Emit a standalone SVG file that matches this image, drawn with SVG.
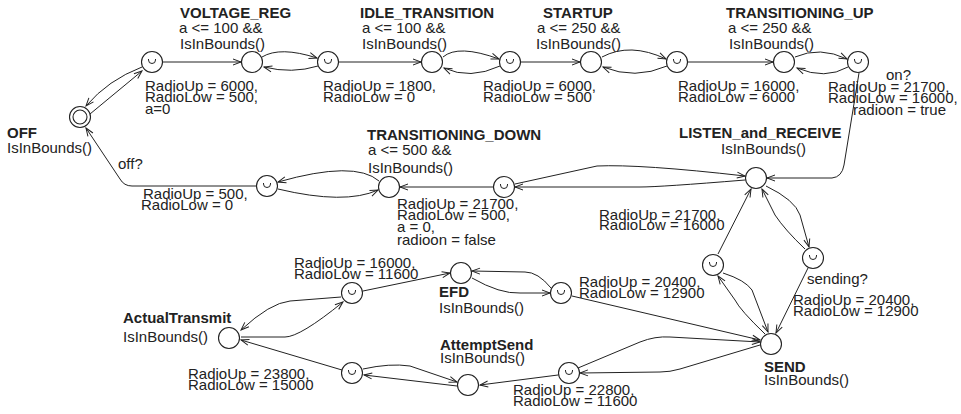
<svg xmlns="http://www.w3.org/2000/svg" width="961" height="414" viewBox="0 0 961 414">
<defs>
<marker id="ah" markerWidth="12" markerHeight="10" refX="0" refY="0" viewBox="-10 -5 12 10" orient="auto" markerUnits="userSpaceOnUse">
<path d="M-8,-3 L0,0 L-8,3" fill="none" stroke="#222" stroke-width="1"/>
</marker>
<g id="cup"><path d="M-3.5,-3 v1 a3.5,3.5 0 0 0 7,0 v-1" fill="none" stroke="#222" stroke-width="1"/></g>
</defs>
<style>
text{font-family:"Liberation Sans",Arial,sans-serif;font-size:15px;fill:#222}
.b{font-weight:bold}
.n{fill:#fff;stroke:#222;stroke-width:1.1}
.e{fill:none;stroke:#222;stroke-width:1;marker-end:url(#ah)}
</style>
<rect width="961" height="414" fill="#fff"/>
<g id="connectors">
<path class="e" d="M90,114 L142,71"/>
<path class="e" d="M142,67 Q108,80 86,106"/>
<path class="e" d="M162,62 L241,62"/>
<path class="e" d="M262,57 Q280,46 317,58"/>
<path class="e" d="M318,66 Q292,74 264,67"/>
<path class="e" d="M338,62 L421,62"/>
<path class="e" d="M443,57 Q458,44 499,59"/>
<path class="e" d="M500,66 Q470,80 444,68"/>
<path class="e" d="M521,62 L580,62"/>
<path class="e" d="M602,57 Q630,42 666,59"/>
<path class="e" d="M667,66 Q635,80 603,67"/>
<path class="e" d="M688,62 L773,62"/>
<path class="e" d="M795,57 Q820,46 847,59"/>
<path class="e" d="M848,67 Q825,80 797,68"/>
<path class="e" d="M859,73 L844,165 Q842,177 832,178 L767,178"/>
<path class="e" d="M515,184 L597,166 Q640,164 745,176"/>
<path class="e" d="M745,180 Q660,187 640,187 L515,187"/>
<path class="e" d="M493,187 L400,187"/>
<path class="e" d="M379,181 Q355,160 278,182"/>
<path class="e" d="M278,189 Q345,205 378,190"/>
<path class="e" d="M257,186 L132,186 Q124,186 120,179 L86,128"/>
<path class="e" d="M718,254 L751,189"/>
<path class="e" d="M766,186 Q795,200 800,215 L809,247"/>
<path class="e" d="M805,249 Q785,230 775,215 L762,189"/>
<path class="e" d="M723,273 Q745,280 752,290 L768,332"/>
<path class="e" d="M765,334 Q740,310 735,300 L718,276"/>
<path class="e" d="M808,268 L776,333"/>
<path class="e" d="M572,296 L760,340"/>
<path class="e" d="M551,288 Q538,272 525,272 L472,271"/>
<path class="e" d="M472,278 Q500,294 520,293 L550,293"/>
<path class="e" d="M363,291 L450,273"/>
<path class="e" d="M341,297 L290,301 Q270,303 241,330"/>
<path class="e" d="M241,337 L285,337 Q300,337 343,302"/>
<path class="e" d="M342,370 L241,340"/>
<path class="e" d="M363,369 Q390,363 410,366 L457,382"/>
<path class="e" d="M457,386 L364,375"/>
<path class="e" d="M558,375 L480,385"/>
<path class="e" d="M578,368 L640,342 Q655,336 670,337 L760,342"/>
<path class="e" d="M760,345 L680,369 Q670,372 660,372 L580,373"/>
</g>
<g id="OFF"><circle class="n" cx="80" cy="117" r="10.5"/><circle class="n" cx="80" cy="117" r="7"/><text class="b" x="7" y="138">OFF</text><text x="7" y="153">IsInBounds()</text></g>
<g id="c1"><circle class="n" cx="152" cy="62" r="10.5"/><use href="#cup" x="152" y="62"/></g>
<g id="VOLTAGE_REG"><circle class="n" cx="252" cy="62" r="10.5"/><text class="b" x="180" y="18">VOLTAGE_REG</text><text x="179" y="32.5">a &lt;= 100 &amp;&amp;</text><text x="180" y="49">IsInBounds()</text></g>
<g id="c2"><circle class="n" cx="328" cy="62" r="10.5"/><use href="#cup" x="328" y="62"/></g>
<g id="IDLE_TRANSITION"><circle class="n" cx="432" cy="62" r="10.5"/><text class="b" x="360" y="18">IDLE_TRANSITION</text><text x="362" y="32.5">a &lt;= 100 &amp;&amp;</text><text x="362" y="49">IsInBounds()</text></g>
<g id="c3"><circle class="n" cx="510" cy="62" r="10.5"/><use href="#cup" x="510" y="62"/></g>
<g id="STARTUP"><circle class="n" cx="591" cy="62" r="10.5"/><text class="b" x="543" y="18">STARTUP</text><text x="537" y="32.5">a &lt;= 250 &amp;&amp;</text><text x="536" y="49">IsInBounds()</text></g>
<g id="c4"><circle class="n" cx="677" cy="62" r="10.5"/><use href="#cup" x="677" y="62"/></g>
<g id="TRANSITIONING_UP"><circle class="n" cx="784" cy="62" r="10.5"/><text class="b" x="726" y="18">TRANSITIONING_UP</text><text x="728" y="32.5">a &lt;= 250 &amp;&amp;</text><text x="729" y="49">IsInBounds()</text></g>
<g id="c5"><circle class="n" cx="858" cy="62" r="10.5"/><use href="#cup" x="858" y="62"/></g>
<g id="c6"><circle class="n" cx="267" cy="186" r="10.5"/><use href="#cup" x="267" y="186"/></g>
<g id="TRANSITIONING_DOWN"><circle class="n" cx="389" cy="187" r="10.5"/><text class="b" x="367" y="140">TRANSITIONING_DOWN</text><text x="368" y="155">a &lt;= 500 &amp;&amp;</text><text x="368" y="173">IsInBounds()</text></g>
<g id="c7"><circle class="n" cx="504" cy="187" r="10.5"/><use href="#cup" x="504" y="187"/></g>
<g id="LISTEN_and_RECEIVE"><circle class="n" cx="756" cy="178" r="10.5"/><text class="b" x="679" y="138">LISTEN_and_RECEIVE</text><text x="721" y="154">IsInBounds()</text></g>
<g id="c8"><circle class="n" cx="713" cy="265" r="10.5"/><use href="#cup" x="713" y="265"/></g>
<g id="c9"><circle class="n" cx="813" cy="258" r="10.5"/><use href="#cup" x="813" y="258"/></g>
<g id="SEND"><circle class="n" cx="771" cy="344" r="10.5"/><text class="b" x="764" y="372">SEND</text><text x="764" y="385">IsInBounds()</text></g>
<g id="c10"><circle class="n" cx="561" cy="293" r="10.5"/><use href="#cup" x="561" y="293"/></g>
<g id="EFD"><circle class="n" cx="461" cy="273" r="10.5"/><text class="b" x="439" y="297">EFD</text><text x="439" y="313">IsInBounds()</text></g>
<g id="c11"><circle class="n" cx="352" cy="293" r="10.5"/><use href="#cup" x="352" y="293"/></g>
<g id="ActualTransmit"><circle class="n" cx="229" cy="338" r="10.5"/><text class="b" x="123" y="323">ActualTransmit</text><text x="123" y="342">IsInBounds()</text></g>
<g id="c12"><circle class="n" cx="352" cy="373" r="10.5"/><use href="#cup" x="352" y="373"/></g>
<g id="AttemptSend"><circle class="n" cx="468" cy="385" r="10.5"/><text class="b" x="440" y="350">AttemptSend</text><text x="440" y="363">IsInBounds()</text></g>
<g id="c13"><circle class="n" cx="569" cy="373" r="10.5"/><use href="#cup" x="569" y="373"/></g>
<g id="labels">
<text x="145" y="91">RadioUp = 6000,</text><text x="145" y="102">RadioLow = 500,</text><text x="145" y="114">a=0</text>
<text x="323" y="91">RadioUp = 1800,</text><text x="323" y="102">RadioLow = 0</text>
<text x="483" y="91">RadioUp = 6000,</text><text x="483" y="102">RadioLow = 500</text>
<text x="678" y="91">RadioUp = 16000,</text><text x="678" y="102">RadioLow = 6000</text>
<text x="886" y="80">on?</text>
<text x="828" y="92">RadioUp = 21700,</text><text x="828" y="103">RadioLow = 16000,</text><text x="853" y="114.5">radioon = true</text>
<text x="118" y="169">off?</text>
<text x="143" y="199">RadioUp = 500,</text><text x="141" y="210">RadioLow = 0</text>
<text x="397" y="209">RadioUp = 21700,</text><text x="397" y="220">RadioLow = 500,</text><text x="397" y="231.5">a = 0,</text><text x="397" y="245">radioon = false</text>
<text x="599" y="219.5">RadioUp = 21700,</text><text x="599" y="230">RadioLow = 16000</text>
<text x="294" y="268">RadioUp = 16000,</text><text x="294" y="279">RadioLow = 11600</text>
<text x="579" y="287">RadioUp = 20400,</text><text x="579" y="298">RadioLow = 12900</text>
<text x="807" y="284">sending?</text>
<text x="793" y="305">RadioUp = 20400,</text><text x="793" y="316">RadioLow = 12900</text>
<text x="188" y="379">RadioUp = 23800,</text><text x="188" y="390">RadioLow = 15000</text>
<text x="513" y="395">RadioUp = 22800,</text><text x="513" y="406">RadioLow = 11600</text>
</g>
</svg>
